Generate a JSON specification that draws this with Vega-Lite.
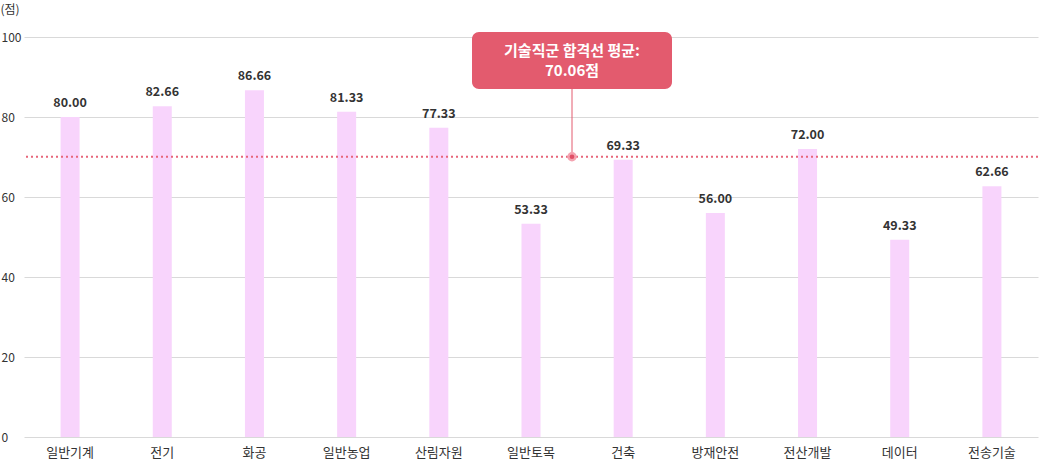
{
  "$schema": "https://vega.github.io/schema/vega-lite/v6.json",
  "width": 1014,
  "height": 400,
  "autosize": {"type": "none"},
  "padding": {"left": 24, "top": 37, "right": 2, "bottom": 24},
  "background": "white",
  "config": {
    "font": "Noto Sans CJK KR",
    "view": {"stroke": null},
    "axis": {"labelFont": "Noto Sans CJK KR", "titleFont": "Noto Sans CJK KR"}
  },
  "datasets": {
    "scores": [
      {"분야": "일반기계", "점수": 80.00},
      {"분야": "전기", "점수": 82.66},
      {"분야": "화공", "점수": 86.66},
      {"분야": "일반농업", "점수": 81.33},
      {"분야": "산림자원", "점수": 77.33},
      {"분야": "일반토목", "점수": 53.33},
      {"분야": "건축", "점수": 69.33},
      {"분야": "방재안전", "점수": 56.00},
      {"분야": "전산개발", "점수": 72.00},
      {"분야": "데이터", "점수": 49.33},
      {"분야": "전송기술", "점수": 62.66}
    ],
    "avg": [{"분야": "일반토목", "평균": 70.06, "label1": "기술직군 합격선 평균:", "label2": "70.06점"}]
  },
  "layer": [
    {
      "data": {"name": "scores"},
      "mark": {"type": "bar", "size": 19, "color": "#f8d4fc"},
      "encoding": {
        "x": {
          "field": "분야", "type": "nominal", "sort": null,
          "scale": {"paddingInner": 0, "paddingOuter": 0},
          "axis": {"title": null, "labelAngle": 0, "ticks": false, "domain": false, "labelPadding": 9, "labelFontSize": 13, "labelColor": "#333333", "labelBaseline": "top"}
        },
        "y": {
          "field": "점수", "type": "quantitative",
          "scale": {"domain": [0, 100]},
          "axis": {
            "values": [0, 20, 40, 60, 80, 100],
            "title": "(점)", "titleAngle": 0, "titleAlign": "left", "titleBaseline": "middle",
            "titleX": -24, "titleY": -28, "titleFontSize": 12, "titleFontWeight": "normal", "titleColor": "#333333",
            "ticks": false, "tickSize": 0, "domain": false,
            "labelAlign": "left", "labelPadding": 23, "labelFontSize": 12, "labelColor": "#333333",
            "gridColor": "#d9d9d9", "gridWidth": 1
          }
        }
      }
    },
    {
      "data": {"name": "scores"},
      "mark": {"type": "text", "baseline": "bottom", "dy": -7, "fontSize": 12.5, "fontWeight": "bold", "color": "#333333"},
      "encoding": {
        "x": {"field": "분야", "type": "nominal", "sort": null},
        "y": {"field": "점수", "type": "quantitative"},
        "text": {"field": "점수", "type": "quantitative", "format": ".2f"}
      }
    },
    {
      "data": {"name": "avg"},
      "mark": {"type": "rule", "color": "#e8667a", "strokeWidth": 2, "strokeDash": [2, 3]},
      "encoding": {"y": {"field": "평균", "type": "quantitative"}}
    },
    {
      "data": {"name": "avg"},
      "mark": {"type": "rule", "color": "#e35a6e", "strokeWidth": 1, "xOffset": 41},
      "encoding": {
        "x": {"field": "분야", "type": "nominal", "sort": null},
        "y": {"field": "평균", "type": "quantitative"},
        "y2": {"datum": 87}
      }
    },
    {
      "data": {"name": "avg"},
      "mark": {"type": "point", "filled": true, "shape": "circle", "size": 90, "color": "#f4a3b0", "opacity": 1, "xOffset": 41},
      "encoding": {
        "x": {"field": "분야", "type": "nominal", "sort": null},
        "y": {"field": "평균", "type": "quantitative"}
      }
    },
    {
      "data": {"name": "avg"},
      "mark": {"type": "point", "filled": true, "shape": "circle", "size": 22, "color": "#e04f66", "opacity": 1, "xOffset": 41},
      "encoding": {
        "x": {"field": "분야", "type": "nominal", "sort": null},
        "y": {"field": "평균", "type": "quantitative"}
      }
    },
    {
      "data": {"name": "avg"},
      "mark": {"type": "bar", "width": 200, "color": "#e35b6e", "cornerRadius": 7, "xOffset": 41, "clip": false},
      "encoding": {
        "x": {"field": "분야", "type": "nominal", "sort": null},
        "y": {"datum": 101.25},
        "y2": {"datum": 87}
      }
    },
    {
      "data": {"name": "avg"},
      "mark": {"type": "text", "color": "white", "fontSize": 15, "fontWeight": "bold", "baseline": "middle", "xOffset": 41, "dy": -10},
      "encoding": {
        "x": {"field": "분야", "type": "nominal", "sort": null},
        "y": {"datum": 94.1},
        "text": {"field": "label1"}
      }
    },
    {
      "data": {"name": "avg"},
      "mark": {"type": "text", "color": "white", "fontSize": 15, "fontWeight": "bold", "baseline": "middle", "xOffset": 41, "dy": 10},
      "encoding": {
        "x": {"field": "분야", "type": "nominal", "sort": null},
        "y": {"datum": 94.1},
        "text": {"field": "label2"}
      }
    }
  ]
}
